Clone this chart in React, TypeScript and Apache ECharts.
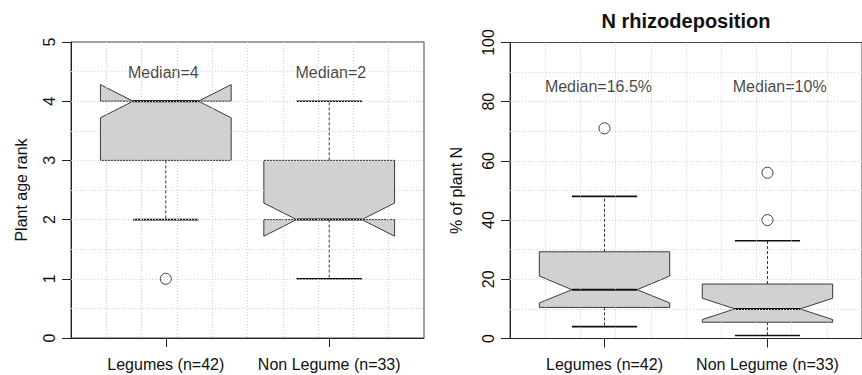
import React, { useEffect, useRef } from "react";
import * as echarts from "echarts";

// ---------- data ----------
const categories = ["Legumes (n=42)", "Non Legume (n=33)"];
const categoryX = [1, 2];

// Left panel: plant age rank
const ageLow = [2, 1];
const ageQ1 = [3, 2];
const ageNotchLow = [3.72, 1.72];
const ageMedian = [4, 2];
const ageNotchHigh = [4.28, 2.28];
const ageQ3 = [4, 3];
const ageHigh = [4, 4];
const ageOutlierX = [1];
const ageOutlierY = [1];
const ageMedianText = ["Median=4", "Median=2"];
const ageTicks = [0, 1, 2, 3, 4, 5];

// Right panel: N rhizodeposition
const rhizoLow = [4, 1];
const rhizoQ1 = [10.5, 5.5];
const rhizoNotchLow = [12.0, 6.4];
const rhizoMedian = [16.5, 10];
const rhizoNotchHigh = [21.1, 13.6];
const rhizoQ3 = [29.3, 18.4];
const rhizoHigh = [48, 33];
const rhizoOutlierX = [1, 2, 2];
const rhizoOutlierY = [71, 56, 40];
const rhizoMedianText = ["Median=16.5%", "Median=10%"];
const rhizoTicks = [0, 20, 40, 60, 80, 100];

// annotation anchor positions (data units)
const ageTextX = [0.985, 2.01];
const ageTextY = 4.48;
const rhizoTextX = [0.963, 2.075];
const rhizoTextY = 85.3;

const FONT = "'Liberation Sans', Arial, Helvetica, sans-serif";
const BOX_WIDTH = 0.8;

function buildRows(lo: number[], q1: number[], nLo: number[], med: number[], nHi: number[], q3: number[], hi: number[]) {
  return categoryX.map((x, i) => [x, lo[i], q1[i], nLo[i], med[i], nHi[i], q3[i], hi[i]]);
}

function renderBox(params: any, api: any) {
  const x = api.value(0);
  const lo = api.value(1);
  const q1 = api.value(2);
  const nLo = api.value(3);
  const med = api.value(4);
  const nHi = api.value(5);
  const q3 = api.value(6);
  const hi = api.value(7);
  const hw = api.size([BOX_WIDTH, 0])[0] / 2;
  const cx = api.coord([x, med])[0];
  const y = (v: number) => api.coord([x, v])[1];
  const poly = [
    [cx - hw, y(q1)],
    [cx - hw, y(nLo)],
    [cx - hw / 2, y(med)],
    [cx - hw, y(nHi)],
    [cx - hw, y(q3)],
    [cx + hw, y(q3)],
    [cx + hw, y(nHi)],
    [cx + hw / 2, y(med)],
    [cx + hw, y(nLo)],
    [cx + hw, y(q1)],
  ];
  const dash = { stroke: "#333", lineWidth: 1, lineDash: [3, 2] };
  const cap = { stroke: "#111", lineWidth: 1.6 };
  return {
    type: "group",
    children: [
      { type: "line", shape: { x1: cx, y1: y(q3), x2: cx, y2: y(hi) }, style: dash },
      { type: "line", shape: { x1: cx, y1: y(q1), x2: cx, y2: y(lo) }, style: dash },
      { type: "line", shape: { x1: cx - hw / 2, y1: y(hi), x2: cx + hw / 2, y2: y(hi) }, style: cap },
      { type: "line", shape: { x1: cx - hw / 2, y1: y(lo), x2: cx + hw / 2, y2: y(lo) }, style: cap },
      {
        type: "polygon",
        shape: { points: poly },
        style: { fill: "#d0d1d0", stroke: "#3a3a3a", lineWidth: 1 },
      },
      { type: "line", shape: { x1: cx - hw / 2, y1: y(med), x2: cx + hw / 2, y2: y(med) }, style: { stroke: "#111", lineWidth: 2 } },
    ],
  };
}

const gridLine = {
  show: true,
  showMinLine: false,
  showMaxLine: false,
  lineStyle: { color: "#d0d0d0", type: [1, 2], width: 1 },
};

function helperAxis(gridIndex: number) {
  return {
    type: "value",
    gridIndex,
    min: 0,
    max: 10,
    interval: 1,
    z: 10,
    axisLine: { show: false },
    axisTick: { show: false },
    axisLabel: { show: false },
    splitLine: gridLine,
  };
}

function mainX(gridIndex: number) {
  return {
    type: "value",
    gridIndex,
    min: 0.42,
    max: 2.58,
    axisLine: { show: true, onZero: false, lineStyle: { color: "#222", width: 1 } },
    axisTick: { show: true, length: 9, customValues: categoryX, lineStyle: { color: "#222" } },
    axisLabel: {
      show: true,
      customValues: categoryX,
      formatter: (v: number) => categories[Math.round(v) - 1] ?? "",
      color: "#111",
      fontSize: 16,
      fontFamily: FONT,
      margin: 18,
    },
    splitLine: { show: false },
  };
}

function mainY(gridIndex: number, ticks: number[], name: string, nameGap: number) {
  return {
    type: "value",
    gridIndex,
    min: ticks[0],
    max: ticks[ticks.length - 1],
    interval: ticks[1] - ticks[0],
    name,
    nameLocation: "middle",
    nameRotate: 90,
    nameGap,
    nameTextStyle: { fontSize: 16, fontFamily: FONT, color: "#111" },
    axisLine: { show: true, onZero: false, lineStyle: { color: "#222", width: 1 } },
    axisTick: { show: true, length: 9, lineStyle: { color: "#222" } },
    axisLabel: { show: true, rotate: 90, fontSize: 16, fontFamily: FONT, color: "#111", margin: 14 },
    splitLine: { show: false },
  };
}

function textSeries(xAxisIndex: number, yAxisIndex: number, xs: number[], yv: number, texts: string[]) {
  return {
    type: "scatter",
    xAxisIndex,
    yAxisIndex,
    symbolSize: 0,
    z: 5,
    label: {
      show: true,
      position: "inside",
      formatter: (p: any) => p.name,
      fontSize: 16,
      fontFamily: FONT,
      color: "#111",
    },
    data: xs.map((x, i) => ({ name: texts[i], value: [x, yv] })),
  };
}

function outlierSeries(xAxisIndex: number, yAxisIndex: number, xs: number[], ys: number[]) {
  return {
    type: "scatter",
    xAxisIndex,
    yAxisIndex,
    symbol: "circle",
    symbolSize: 11,
    z: 4,
    itemStyle: { color: "#fff", borderColor: "#111", borderWidth: 1 },
    data: xs.map((x, i) => [x, ys[i]]),
  };
}

export default function App() {
  const ref = useRef<HTMLDivElement>(null);
  useEffect(() => {
    if (!ref.current) return;
    const chart = echarts.init(ref.current, undefined, { renderer: "svg" });
    chart.setOption({
      animation: false,
      backgroundColor: "#fff",
      textStyle: { fontFamily: FONT },
      title: {
        text: "N rhizodeposition",
        left: 686,
        top: 11,
        padding: 0,
        textAlign: "center",
        textStyle: { fontSize: 20, fontWeight: "bold", fontFamily: FONT, color: "#111" },
      },
      grid: [
        { left: 71, top: 42, width: 353, height: 296, show: true, borderColor: "#444", borderWidth: 1, backgroundColor: "transparent" },
        { left: 510, top: 42.5, width: 353, height: 296, show: true, borderColor: "#444", borderWidth: 1, backgroundColor: "transparent" },
      ],
      xAxis: [mainX(0), helperAxis(0), mainX(1), helperAxis(1)],
      yAxis: [
        mainY(0, ageTicks, "Plant age rank", 42),
        helperAxis(0),
        mainY(1, rhizoTicks, "% of plant N", 46),
        helperAxis(1),
      ],
      series: [
        {
          type: "custom",
          xAxisIndex: 0,
          yAxisIndex: 0,
          z: 2,
          renderItem: renderBox,
          encode: { x: 0, y: [1, 2, 3, 4, 5, 6, 7] },
          data: buildRows(ageLow, ageQ1, ageNotchLow, ageMedian, ageNotchHigh, ageQ3, ageHigh),
        },
        {
          type: "custom",
          xAxisIndex: 2,
          yAxisIndex: 2,
          z: 2,
          renderItem: renderBox,
          encode: { x: 0, y: [1, 2, 3, 4, 5, 6, 7] },
          data: buildRows(rhizoLow, rhizoQ1, rhizoNotchLow, rhizoMedian, rhizoNotchHigh, rhizoQ3, rhizoHigh),
        },
        outlierSeries(0, 0, ageOutlierX, ageOutlierY),
        outlierSeries(2, 2, rhizoOutlierX, rhizoOutlierY),
        textSeries(0, 0, ageTextX, ageTextY, ageMedianText),
        textSeries(2, 2, rhizoTextX, rhizoTextY, rhizoMedianText),
      ],
    });
    return () => chart.dispose();
  }, []);
  return <div ref={ref} style={{ position: "absolute", left: 0, top: 0, width: 862, height: 375 }} />;
}
